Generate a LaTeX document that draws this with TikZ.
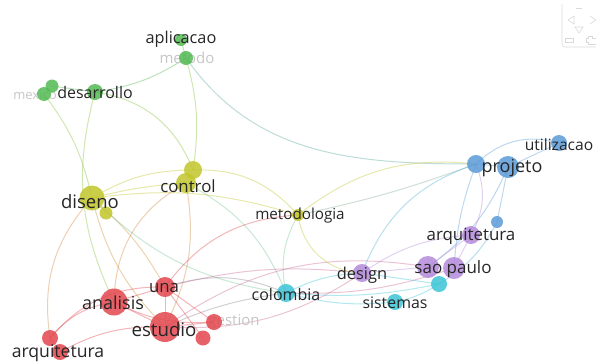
\documentclass[tikz,border=0pt]{standalone}
\usepackage{fontspec}
\setmainfont{Open Sans}
\usetikzlibrary{backgrounds}
\definecolor{cgreen}{HTML}{52BA52}
\definecolor{cyellow}{HTML}{C2C62C}
\definecolor{cred}{HTML}{E2474E}
\definecolor{cblue}{HTML}{5A9AD6}
\definecolor{cpurple}{HTML}{B48BDB}
\definecolor{ccyan}{HTML}{3CC4D6}
\definecolor{ctext}{HTML}{262626}
\tikzset{
  dot/.style={circle, fill=#1, fill opacity=0.85, inner sep=0pt},
  lab/.style={text=ctext, inner sep=0pt, font=\fontsize{#1}{#1}\selectfont},
  faint/.style={text=gray!45, inner sep=0pt, font=\fontsize{#1}{#1}\selectfont},
  edge/.style={draw=#1, draw opacity=0.4, line width=1pt},
  widget/.style={draw=gray!30, line width=0.6pt}
}
\begin{document}
\begin{tikzpicture}[x=1pt,y=-1pt]
\useasboundingbox (0,0) rectangle (596,362);
% faint labels (behind)
\node[faint=15] (l-metodo) at (187,58) {metodo};
\node[faint=13] (l-mexico) at (35,95) {mexico};
\node[faint=15] (l-gestion) at (234,322) {gestion};
% nodes
\node[dot=cgreen, minimum size=12pt] (aplicacao) at (181,40) {};
\node[dot=cgreen, minimum size=14pt] (metodo) at (186,58) {};
\node[dot=cgreen, minimum size=13pt] (mexico1) at (52,86) {};
\node[dot=cgreen, minimum size=14pt] (mexico) at (44,94) {};
\node[dot=cgreen, minimum size=16pt] (desarrollo) at (95,92) {};
\node[dot=cyellow, minimum size=18pt] (control1) at (193,170) {};
\node[dot=cyellow, minimum size=20pt] (control) at (186,183) {};
\node[dot=cyellow, minimum size=25pt] (diseno) at (92,198) {};
\node[dot=cyellow, minimum size=13pt] (diseno2) at (106,213) {};
\node[dot=cyellow, minimum size=12pt] (metodologia) at (298,215) {};
\node[dot=cblue, minimum size=18pt] (projeto1) at (476,164) {};
\node[dot=cblue, minimum size=22pt] (projeto) at (508,167) {};
\node[dot=cblue, minimum size=16pt] (utilizacao) at (559,143) {};
\node[dot=cblue, minimum size=12pt] (blue2) at (497,222) {};
\node[dot=cpurple, minimum size=18pt] (arqpt) at (471,235) {};
\node[dot=cpurple, minimum size=22pt] (sao1) at (428,267) {};
\node[dot=cpurple, minimum size=22pt] (saopaulo) at (454,268) {};
\node[dot=ccyan, minimum size=16pt] (cyan2) at (439,284) {};
\node[dot=cpurple, minimum size=18pt] (design) at (362,273) {};
\node[dot=ccyan, minimum size=16pt] (sistemas) at (395,302) {};
\node[dot=ccyan, minimum size=18pt] (colombia) at (286,293) {};
\node[dot=cred, minimum size=20pt] (una) at (165,287) {};
\node[dot=cred, minimum size=27pt] (analisis) at (114,302) {};
\node[dot=cred, minimum size=30pt] (estudio) at (165,327) {};
\node[dot=cred, minimum size=16pt] (gestion) at (214,322) {};
\node[dot=cred, minimum size=15pt] (red2) at (203,338) {};
\node[dot=cred, minimum size=16pt] (arqes1) at (50,338) {};
\node[dot=cred, minimum size=16pt] (arqes) at (60,352) {};
% edges
\begin{scope}[on background layer]
% green
\draw[edge=cgreen] (desarrollo.center) to[bend right=12] (metodo.center);
\draw[edge=cgreen!50!cyellow] (desarrollo.center) to[bend left=30] (control1.center);
\draw[edge=cgreen!50!cyellow] (metodo.center) to[bend left=12] (control1.center);
\draw[edge=cgreen!40!cblue] (metodo.center) to[out=-55,in=180] (projeto1.center);
\draw[edge=cgreen!50!cyellow] (mexico.center) to[bend left=12] (diseno.center);
\draw[edge=cgreen!50!cyellow] (desarrollo.center) to[bend right=20] (analisis.center);
\draw[edge=cgreen!60!cyellow] (aplicacao.center) -- (metodo.center);
\draw[edge=cgreen] (mexico1.center) -- (desarrollo.center);
% yellow
\draw[edge=cyellow] (diseno.center) to[bend left=15] (control1.center);
\draw[edge=cyellow] (diseno.center) to[bend left=5] (control.center);
\draw[edge=cyellow] (diseno.center) to[bend left=12] (metodologia.center);
\draw[edge=cyellow] (control1.center) to[bend left=25] (metodologia.center);
\draw[edge=cyellow] (metodologia.center) to[bend left=22] (projeto1.center);
\draw[edge=cyellow!60!cred] (diseno.center) to[bend left=10] (una.center);
\draw[edge=cyellow!60!cred] (diseno.center) to[bend right=15] (estudio.center);
\draw[edge=cyellow!40!ccyan] (diseno.center) to[bend right=18] (colombia.center);
\draw[edge=cyellow!50!cred] (diseno.center) to[bend right=25] (arqes1.center);
\draw[edge=cyellow!50!cred] (control.center) to[bend right=30] (analisis.center);
\draw[edge=cyellow!50!cred] (control.center) to[bend left=18] (estudio.center);
\draw[edge=cyellow] (metodologia.center) to[bend right=40] (design.center);
\draw[edge=cyellow!40!ccyan] (control.center) to[bend left=20] (colombia.center);
\draw[edge=cyellow!40!ccyan] (metodologia.center) to[bend right=20] (colombia.center);
\draw[edge=cyellow] (diseno2.center) -- (diseno.center);
% red
\draw[edge=cred] (una.center) to[bend left=25] (metodologia.center);
\draw[edge=cred!50!cpurple] (estudio.center) to[bend left=22] (sao1.center);
\draw[edge=cred!50!cpurple] (una.center) to[bend left=10] (design.center);
\draw[edge=cred!50!cpurple] (estudio.center) to[bend right=18] (design.center);
\draw[edge=cred!50!ccyan] (una.center) to[bend left=20] (colombia.center);
\draw[edge=cred!50!ccyan] (estudio.center) to[bend left=8] (colombia.center);
\draw[edge=cred] (analisis.center) -- (una.center);
\draw[edge=cred] (analisis.center) -- (estudio.center);
\draw[edge=cred] (arqes1.center) to[bend left=20] (analisis.center);
\draw[edge=cred] (arqes.center) to[bend left=15] (estudio.center);
\draw[edge=cred] (arqes1.center) to[bend left=25] (una.center);
\draw[edge=cred] (una.center) -- (estudio.center);
\draw[edge=cred] (una.center) -- (gestion.center);
\draw[edge=cred] (una.center) -- (red2.center);
\draw[edge=cred] (estudio.center) -- (gestion.center);
\draw[edge=cred] (analisis.center) to[bend right=15] (gestion.center);
\draw[edge=cred] (arqes1.center) -- (arqes.center);
% blue
\draw[edge=cblue] (projeto1.center) to[bend left=30] (utilizacao.center);
\draw[edge=cblue] (projeto.center) -- (utilizacao.center);
\draw[edge=cblue] (projeto1.center) -- (projeto.center);
\draw[edge=cblue] (projeto.center) to[bend left=15] (sao1.center);
\draw[edge=cblue] (projeto1.center) to[bend right=8] (saopaulo.center);
\draw[edge=cblue] (projeto.center) -- (blue2.center);
\draw[edge=cblue!50!ccyan] (blue2.center) to[bend left=15] (cyan2.center);
\draw[edge=cblue!60!cyellow] (projeto1.center) to[bend left=4] (metodologia.center);
\draw[edge=cblue!50!ccyan] (projeto1.center) to[bend right=25] (design.center);
% purple
\draw[edge=cpurple] (arqpt.center) to[bend right=25] (projeto1.center);
\draw[edge=cpurple] (design.center) -- (sao1.center);
\draw[edge=cpurple] (arqpt.center) -- (sao1.center);
\draw[edge=cpurple] (arqpt.center) -- (saopaulo.center);
\draw[edge=cpurple] (design.center) to[bend left=15] (arqpt.center);
\draw[edge=cpurple!50!cred] (saopaulo.center) to[bend left=10] (colombia.center);
% cyan
\draw[edge=ccyan] (colombia.center) to[bend left=12] (design.center);
\draw[edge=ccyan] (colombia.center) to[bend right=10] (sistemas.center);
\draw[edge=ccyan] (sistemas.center) to[bend right=10] (cyan2.center);
\draw[edge=ccyan] (design.center) -- (cyan2.center);
\draw[edge=ccyan] (colombia.center) to[bend right=8] (cyan2.center);
\end{scope}
% labels
\node[lab=16.3] (l-aplicacao) at (181,39) {aplicacao};
\node[lab=16] (l-desarrollo) at (95,92) {desarrollo};
\node[lab=16.8] (l-control) at (188,186) {control};
\node[lab=18.5] (l-diseno) at (90,202) {diseno};
\node[lab=15.2] (l-metodologia) at (300,216) {metodologia};
\node[lab=18] (l-projeto) at (512,168) {projeto};
\node[lab=15.6] (l-utilizacao) at (559,145) {utilizacao};
\node[lab=16.9] (l-arqpt) at (471,236) {arquitetura};
\node[lab=17] (l-saopaulo) at (453,269) {sao paulo};
\node[lab=16.4] (l-design) at (362,275) {design};
\node[lab=15.9] (l-sistemas) at (395,303) {sistemas};
\node[lab=16] (l-colombia) at (286,294) {colombia};
\node[lab=16.8] (l-una) at (164,288) {una};
\node[lab=18] (l-analisis) at (113,303) {analisis};
\node[lab=18.7] (l-estudio) at (164,329) {estudio};
\node[lab=17.6] (l-arqes) at (58,353) {arquitetura};
% navigation widget
\draw[widget, rounded corners=3pt] (562,4) -- (562,47) -- (600,47);
\draw[widget] (574,16) -- (568,20) -- (574,24) -- cycle;
\draw[widget] (590,16) -- (596,20) -- (590,24);
\draw[widget] (575,27) -- (583,27) -- (579,33) -- cycle;
\draw[widget] (576,8) -- (582,8);
\draw[widget] (565,38) rectangle (573,42);
\draw[widget] (588,36) -- (592,36) -- (592,38) -- (596,38);
\draw[widget] (588,36) -- (588,38) -- (586,38) -- (586,42) -- (588,42) -- (588,44) -- (596,44);
\end{tikzpicture}
\end{document}
